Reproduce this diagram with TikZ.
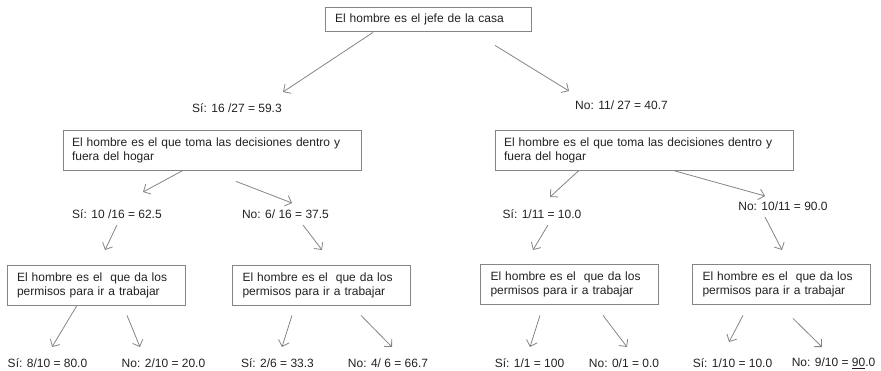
\documentclass[tikz,border=0pt]{standalone}
\usepackage{fontspec}
\setmainfont{Liberation Sans}
\usepackage{xcolor}
\usepackage{tikz}
\usetikzlibrary{calc,arrows.meta}
\definecolor{fondo}{HTML}{FFFFFF}
\definecolor{texto}{HTML}{222222}
\definecolor{linea}{HTML}{858585}
\tikzset{
  letra/.style={text=texto, font=\fontsize{12}{14}\selectfont},
  caja/.style={letra, draw=linea, line width=0.8pt, rectangle, align=left, inner xsep=9pt, inner ysep=0pt, minimum height=40pt},
  cajaa/.style={caja, text width=280pt},
  cajab/.style={caja, text width=158pt, inner xsep=10pt},
  etiq/.style={letra, inner sep=0pt},
  flecha/.style={draw=linea, line width=0.8pt, -{Straight Barb[length=5.5pt,width=11pt]}},
}

\begin{document}
\begin{tikzpicture}[x=1pt,y=-1pt]
  \fill[fondo] (0,0) rectangle (881,371);
  \useasboundingbox (0,0) rectangle (881,371);

  \node[caja, text width=186pt, inner xsep=10pt, minimum height=24pt] (jefe) at (428,19) {El hombre es el jefe de la casa};

  \node[etiq] (si1) at (237,108) {Sí: 16 /27 = 59.3};
  \node[etiq] (no1) at (621.5,105) {No: 11/ 27 = 40.7};

  \node[cajaa] (decL) at (212,150) {El hombre es el que toma las decisiones dentro y\\fuera del hogar};
  \node[cajaa] (decR) at (644,150) {El hombre es el que toma las decisiones dentro y\\fuera del hogar};

  \node[etiq] (si2) at (117,214) {Sí: 10 /16 = 62.5};
  \node[etiq] (no2) at (285.5,214) {No: 6/ 16 = 37.5};
  \node[etiq] (si3) at (542,214) {Sí: 1/11 = 10.0};
  \node[etiq] (no3) at (783,206) {No: 10/11 = 90.0};

  \node[cajab] (permA) at (96,285) {El hombre es el~~que da los\\permisos para ir a trabajar};
  \node[cajab] (permB) at (321.5,285) {El hombre es el~~que da los\\permisos para ir a trabajar};
  \node[cajab] (permC) at (569.5,284.5) {El hombre es el~~que da los\\permisos para ir a trabajar};
  \node[cajab] (permD) at (781.5,284.5) {El hombre es el~~que da los\\permisos para ir a trabajar};

  \node[etiq] (hojaA) at (47.5,363) {Sí: 8/10 = 80.0};
  \node[etiq] (hojaB) at (163.5,363) {No: 2/10 = 20.0};
  \node[etiq] (hojaC) at (277.5,363) {Sí: 2/6 = 33.3};
  \node[etiq] (hojaD) at (388,363) {No: 4/ 6 = 66.7};
  \node[etiq] (hojaE) at (529.5,363) {Sí: 1/1 = 100};
  \node[etiq] (hojaF) at (624,363) {No: 0/1 = 0.0};
  \node[etiq] (hojaG) at (732.5,363) {Sí: 1/10 = 10.0};
  \node[etiq] (hojaH) at (833.5,363) {No: 9/10 = \underline{90}.0};

  \draw[flecha] ($(jefe.south)+(-55,1)$) -- ($(si1)+(46,-16)$);
  \draw[flecha] ($(jefe.south)+(67,14)$) -- ($(no1)+(-52.5,-14)$);

  \draw[flecha] ($(decL.south)+(-29,0)$) -- ($(si2)+(26,-22)$);
  \draw[flecha] ($(decL.south)+(24,11)$) -- ($(no2)+(6.5,-11)$);
  \draw[flecha] ($(decR.south)+(-65,0)$) -- ($(si3)+(8,-17)$);
  \draw[flecha] ($(decR.south)+(29,0)$) -- ($(no3)+(-18,-10)$);

  \draw[flecha] ($(si2)+(0,11)$) -- ($(permA)+(9,-35)$);
  \draw[flecha] ($(no2)+(17.5,11)$) -- ($(permB)+(0.5,-35)$);
  \draw[flecha] ($(si3)+(6,11)$) -- ($(permC)+(-36.5,-34.5)$);
  \draw[flecha] ($(no3)+(-18,11)$) -- ($(permD)+(0.5,-34.5)$);

  \draw[flecha] ($(permA.south)+(-19,0)$) -- ($(hojaA)+(4.5,-16)$);
  \draw[flecha] ($(permA.south)+(31,10)$) -- ($(hojaB)+(-23.5,-16)$);
  \draw[flecha] ($(permB.south)+(-29.5,10)$) -- ($(hojaC)+(4.5,-16)$);
  \draw[flecha] ($(permB.south)+(39.5,10)$) -- ($(hojaD)+(4,-16)$);
  \draw[flecha] ($(permC.south)+(-29.5,10.5)$) -- ($(hojaE)+(0.5,-16)$);
  \draw[flecha] ($(permC.south)+(33.5,10.5)$) -- ($(hojaF)+(3,-16)$);
  \draw[flecha] ($(permD.south)+(-38.5,10.5)$) -- ($(hojaG)+(-3.5,-21)$);
  \draw[flecha] ($(permD.south)+(11.5,13.5)$) -- ($(hojaH)+(-11.5,-16)$);
\end{tikzpicture}
\end{document}
